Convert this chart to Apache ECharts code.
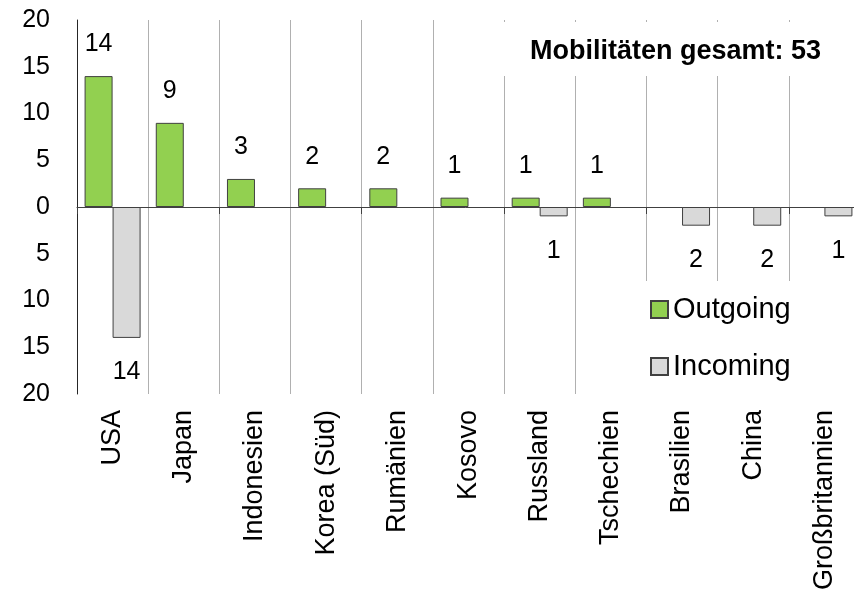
<!DOCTYPE html>
<html>
<head>
<meta charset="utf-8">
<script src="https://cdn.jsdelivr.net/npm/echarts@6/dist/echarts.min.js"></script>
<style>
  html, body { margin: 0; padding: 0; background: #fff; }
  #chart { width: 854px; height: 603px; }
</style>
</head>
<body>
<div id="chart"></div>
<script>
// Länder und Mobilitäten
var categories = ['USA', 'Japan', 'Indonesien', 'Korea (Süd)', 'Rumänien', 'Kosovo', 'Russland', 'Tschechien', 'Brasilien', 'China', 'Großbritannien'];
var outgoing = [14, 9, 3, 2, 2, 1, 1, 1, 0, 0, 0];
var incoming = [14, 0, 0, 0, 0, 0, 1, 0, 2, 2, 1];
var yTicks = [-20, -15, -10, -5, 0, 5, 10, 15, 20];
var total = 53;

var myChart = echarts.init(document.getElementById('chart'));

var labelFont = 'Liberation Sans';

// 0 -> kein Balken
function toBars(arr, sign) {
    return arr.map(function (v) { return v === 0 ? '-' : sign * v; });
}

var option = {
    animation: false,
    title: {
        text: 'Mobilitäten gesamt: ' + total,
        left: 480,
        top: 22,
        padding: [16, 50, 11, 50],
        backgroundColor: '#fff',
        textStyle: {
            color: '#000',
            fontSize: 27,
            fontWeight: 'bold',
            fontFamily: labelFont
        }
    },
    legend: {
        orient: 'vertical',
        left: 620,
        top: 281,
        padding: [14, 70, 20, 30],
        backgroundColor: '#fff',
        itemWidth: 17,
        itemHeight: 17,
        itemGap: 28,
        icon: 'rect',
        data: ['Outgoing', 'Incoming'],
        textStyle: {
            color: '#000',
            fontSize: 29,
            fontFamily: labelFont
        }
    },
    grid: {
        left: 77,
        right: -6,
        top: 20,
        bottom: 209,
        outerBoundsMode: 'none',
        containLabel: false
    },
    xAxis: [{
        // Nulllinie mit Strichen
        type: 'category',
        data: categories,
        position: 'bottom',
        axisLine: {
            show: true,
            onZero: true,
            lineStyle: { color: '#404040', width: 1 }
        },
        axisTick: {
            show: true,
            length: 7,
            lineStyle: { color: '#404040' }
        },
        axisLabel: { show: false },
        splitLine: { show: false }
    }, {
        // Beschriftung unten + Trennlinien
        type: 'category',
        data: categories,
        position: 'bottom',
        axisLine: { show: false, onZero: false },
        axisTick: { show: false },
        splitLine: {
            show: true,
            interval: 0,
            lineStyle: { color: '#b0b0b0', width: 1 }
        },
        axisLabel: {
            interval: 0,
            rotate: 90,
            margin: 16,
            color: '#000',
            fontSize: 27,
            fontFamily: labelFont,
            overflow: 'none',
            width: 400
        }
    }],
    yAxis: {
        type: 'value',
        min: yTicks[0],
        max: yTicks[yTicks.length - 1],
        interval: 5,
        axisLine: {
            show: true,
            lineStyle: { color: '#262626' }
        },
        axisTick: { show: false },
        splitLine: { show: false },
        axisLabel: {
            margin: 27,
            color: '#000',
            fontSize: 25,
            fontFamily: labelFont,
            formatter: function (value) {
                return Math.abs(value);
            }
        }
    },
    series: [{
        name: 'Outgoing',
        type: 'bar',
        xAxisIndex: 0,
        data: toBars(outgoing, 1),
        barWidth: 28,
        barGap: '0%',
        itemStyle: {
            color: '#92d050',
            borderColor: '#404040',
            borderWidth: 1
        },
        label: {
            show: true,
            position: 'top',
            distance: 19,
            color: '#000',
            fontSize: 25,
            fontFamily: labelFont,
            formatter: function (p) {
                return p.value ? p.value : '';
            }
        }
    }, {
        name: 'Incoming',
        type: 'bar',
        xAxisIndex: 0,
        data: toBars(incoming, -1),
        barWidth: 28,
        barGap: '0%',
        itemStyle: {
            color: '#d9d9d9',
            borderColor: '#404040',
            borderWidth: 1
        },
        label: {
            show: true,
            position: 'bottom',
            distance: 22,
            color: '#000',
            fontSize: 25,
            fontFamily: labelFont,
            formatter: function (p) {
                return p.value ? Math.abs(p.value) : '';
            }
        }
    }]
};
myChart.setOption(option);
</script>
</body>
</html>
